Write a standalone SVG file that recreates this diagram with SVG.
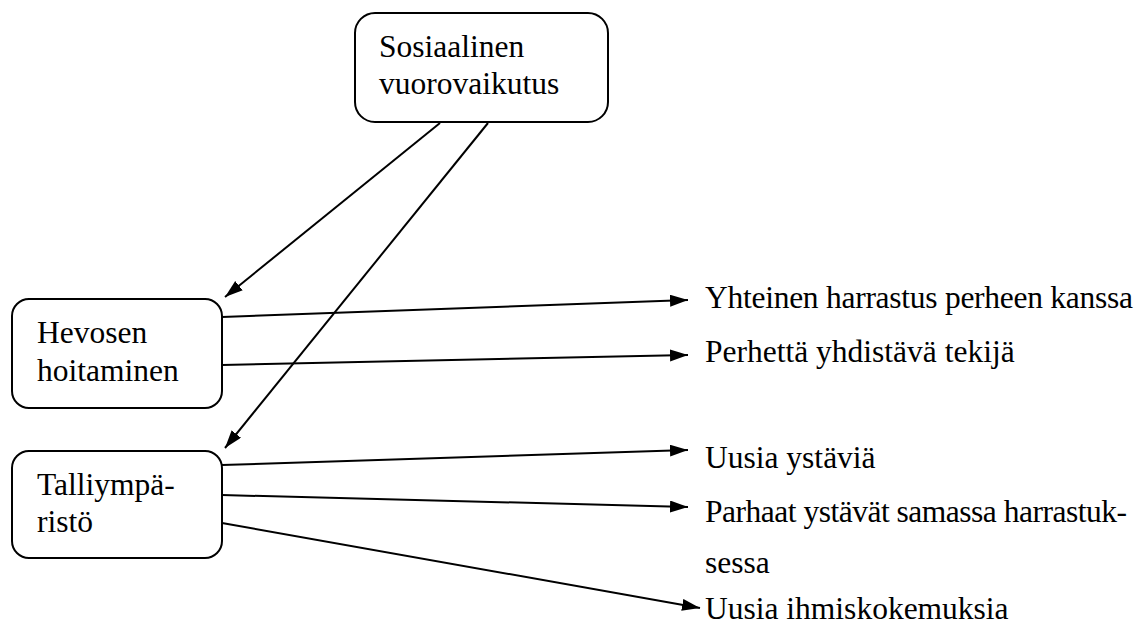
<svg xmlns="http://www.w3.org/2000/svg" width="1146" height="627" viewBox="0 0 1146 627">
<style>
.box{fill:#fff;stroke:#000;stroke-width:2}
.t{font-family:"Liberation Serif","Times New Roman",serif;font-size:31.5px;fill:#000}
.c{stroke:#000;stroke-width:2;fill:none;marker-end:url(#ah)}
</style>
<defs>
<marker id="ah" markerUnits="userSpaceOnUse" markerWidth="20" markerHeight="14" refX="18" refY="6" orient="auto">
<path d="M0,0 L18,6 L0,12 z" fill="#000"/>
</marker>
</defs>
<rect width="1146" height="627" fill="#fff"/>
<g id="n-sos">
<rect class="box" x="355" y="13" width="253" height="109" rx="20"/>
<text class="t" x="379" y="57">Sosiaalinen</text>
<text class="t" x="379" y="94">vuorovaikutus</text>
</g>
<g id="n-hev">
<rect class="box" x="12" y="299" width="210" height="109" rx="17"/>
<text class="t" x="37" y="343">Hevosen</text>
<text class="t" x="37" y="381">hoitaminen</text>
</g>
<g id="n-tal">
<rect class="box" x="12" y="451" width="210" height="107" rx="17"/>
<text class="t" x="37" y="495">Talliympä-</text>
<text class="t" x="37" y="532">ristö</text>
</g>
<g id="n-out">
<text class="t" x="705" y="308" textLength="428" lengthAdjust="spacing">Yhteinen harrastus perheen kanssa</text>
<text class="t" x="705" y="362">Perhettä yhdistävä tekijä</text>
<text class="t" x="705" y="468">Uusia ystäviä</text>
<text class="t" x="705" y="522" textLength="422" lengthAdjust="spacing">Parhaat ystävät samassa harrastuk-</text>
<text class="t" x="705" y="573">sessa</text>
<text class="t" x="705" y="619">Uusia ihmiskokemuksia</text>
</g>
<g id="connectors">
<line class="c" x1="440" y1="123" x2="225" y2="297"/>
<line class="c" x1="488" y1="123" x2="225" y2="448"/>
<line class="c" x1="222" y1="317" x2="688" y2="300"/>
<line class="c" x1="222" y1="365" x2="688" y2="355"/>
<line class="c" x1="222" y1="465" x2="688" y2="450"/>
<line class="c" x1="222" y1="495" x2="688" y2="507"/>
<line class="c" x1="222" y1="523" x2="700" y2="608"/>
</g>
</svg>
